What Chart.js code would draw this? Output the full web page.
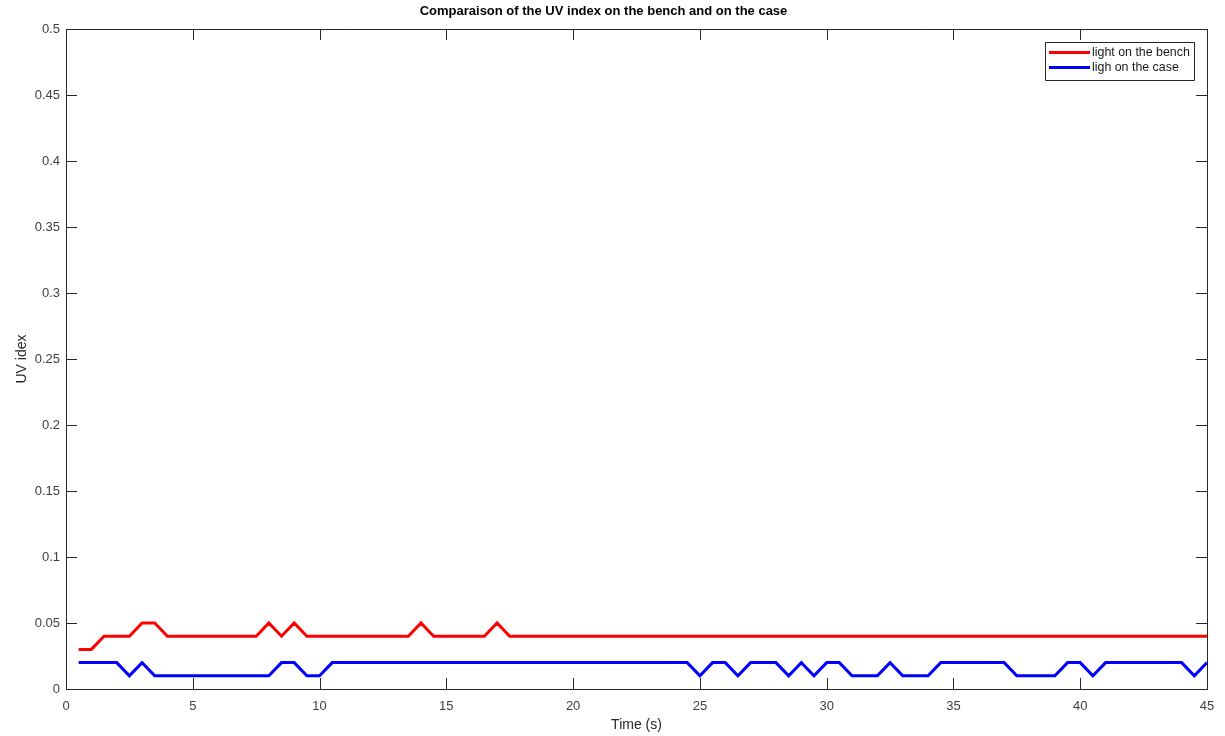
<!DOCTYPE html>
<html>
<head>
<meta charset="utf-8">
<title>UV index</title>
<script src="https://cdn.jsdelivr.net/npm/chart.js@4.4.1/dist/chart.umd.min.js"></script>
<style>
  html, body { margin: 0; padding: 0; background: #fff; }
  canvas { display: block; }
</style>
</head>
<body>
<canvas id="uvChart" width="1225" height="736"></canvas>
<script>
// time of each sample (s)
const timeValues = [
  0.5, 1, 1.5, 2, 2.5, 3, 3.5, 4, 4.5, 5,
  5.5, 6, 6.5, 7, 7.5, 8, 8.5, 9, 9.5, 10,
  10.5, 11, 11.5, 12, 12.5, 13, 13.5, 14, 14.5, 15,
  15.5, 16, 16.5, 17, 17.5, 18, 18.5, 19, 19.5, 20,
  20.5, 21, 21.5, 22, 22.5, 23, 23.5, 24, 24.5, 25,
  25.5, 26, 26.5, 27, 27.5, 28, 28.5, 29, 29.5, 30,
  30.5, 31, 31.5, 32, 32.5, 33, 33.5, 34, 34.5, 35,
  35.5, 36, 36.5, 37, 37.5, 38, 38.5, 39, 39.5, 40,
  40.5, 41, 41.5, 42, 42.5, 43, 43.5, 44, 44.5, 45
];

// UV index, light on the bench
const benchUV = [
  0.03, 0.03, 0.04, 0.04, 0.04, 0.05, 0.05, 0.04, 0.04, 0.04,
  0.04, 0.04, 0.04, 0.04, 0.04, 0.05, 0.04, 0.05, 0.04, 0.04,
  0.04, 0.04, 0.04, 0.04, 0.04, 0.04, 0.04, 0.05, 0.04, 0.04,
  0.04, 0.04, 0.04, 0.05, 0.04, 0.04, 0.04, 0.04, 0.04, 0.04,
  0.04, 0.04, 0.04, 0.04, 0.04, 0.04, 0.04, 0.04, 0.04, 0.04,
  0.04, 0.04, 0.04, 0.04, 0.04, 0.04, 0.04, 0.04, 0.04, 0.04,
  0.04, 0.04, 0.04, 0.04, 0.04, 0.04, 0.04, 0.04, 0.04, 0.04,
  0.04, 0.04, 0.04, 0.04, 0.04, 0.04, 0.04, 0.04, 0.04, 0.04,
  0.04, 0.04, 0.04, 0.04, 0.04, 0.04, 0.04, 0.04, 0.04, 0.04
];

// UV index, light on the case
const caseUV = [
  0.02, 0.02, 0.02, 0.02, 0.01, 0.02, 0.01, 0.01, 0.01, 0.01,
  0.01, 0.01, 0.01, 0.01, 0.01, 0.01, 0.02, 0.02, 0.01, 0.01,
  0.02, 0.02, 0.02, 0.02, 0.02, 0.02, 0.02, 0.02, 0.02, 0.02,
  0.02, 0.02, 0.02, 0.02, 0.02, 0.02, 0.02, 0.02, 0.02, 0.02,
  0.02, 0.02, 0.02, 0.02, 0.02, 0.02, 0.02, 0.02, 0.02, 0.01,
  0.02, 0.02, 0.01, 0.02, 0.02, 0.02, 0.01, 0.02, 0.01, 0.02,
  0.02, 0.01, 0.01, 0.01, 0.02, 0.01, 0.01, 0.01, 0.02, 0.02,
  0.02, 0.02, 0.02, 0.02, 0.01, 0.01, 0.01, 0.01, 0.02, 0.02,
  0.01, 0.02, 0.02, 0.02, 0.02, 0.02, 0.02, 0.02, 0.01, 0.02
];

const seriesLabels = ["light on the bench", "ligh on the case"];
const seriesColors = ["#ff0000", "#0000ff"];

const axisColor = "#262626";
const fontName = "'Liberation Sans', Arial, Helvetica, sans-serif";

function toPoints(values) {
  return values.map((v, i) => ({ x: timeValues[i], y: v }));
}

// matlab style box: frame with inward ticks on all four sides + legend box
const matlabBox = {
  id: "matlabBox",
  afterDraw(chart) {
    const ctx = chart.ctx;
    const area = chart.chartArea;
    const xs = chart.scales.x;
    const ys = chart.scales.y;
    const tickLen = 11;

    ctx.save();
    ctx.strokeStyle = axisColor;
    ctx.lineWidth = 1;
    ctx.beginPath();
    ctx.rect(Math.round(area.left) + 0.5, Math.round(area.top) + 0.5,
      Math.round(area.right - area.left), Math.round(area.bottom - area.top));
    ctx.stroke();

    ctx.beginPath();
    xs.ticks.forEach((t) => {
      const px = Math.round(xs.getPixelForValue(t.value)) + 0.5;
      ctx.moveTo(px, area.bottom);
      ctx.lineTo(px, area.bottom - tickLen);
      ctx.moveTo(px, area.top);
      ctx.lineTo(px, area.top + tickLen);
    });
    ys.ticks.forEach((t) => {
      const py = Math.round(ys.getPixelForValue(t.value)) + 0.5;
      ctx.moveTo(area.left, py);
      ctx.lineTo(area.left + tickLen, py);
      ctx.moveTo(area.right, py);
      ctx.lineTo(area.right - tickLen, py);
    });
    ctx.stroke();

    // legend
    const boxRight = area.right - 13;
    const boxTop = area.top + 13;
    const boxW = 149;
    const boxH = 38;
    const boxLeft = boxRight - boxW;
    ctx.fillStyle = "#fff";
    ctx.fillRect(boxLeft, boxTop, boxW, boxH);
    ctx.beginPath();
    ctx.rect(Math.round(boxLeft) + 0.5, Math.round(boxTop) + 0.5, boxW, boxH);
    ctx.stroke();

    ctx.font = "12.4px " + fontName;
    ctx.textBaseline = "middle";
    ctx.textAlign = "left";
    chart.data.datasets.forEach((ds, i) => {
      const ly = boxTop + 10.5 + i * 15;
      ctx.strokeStyle = ds.borderColor;
      ctx.lineWidth = 3;
      ctx.beginPath();
      ctx.moveTo(boxLeft + 4, ly);
      ctx.lineTo(boxLeft + 45, ly);
      ctx.stroke();
      ctx.fillStyle = "#1a1a1a";
      ctx.fillText(ds.label, boxLeft + 47, ly);
    });
    ctx.restore();
  }
};

const ctx = document.getElementById("uvChart").getContext("2d");
const uvChart = new Chart(ctx, {
  type: "line",
  data: {
    datasets: [
      {
        label: seriesLabels[0],
        data: toPoints(benchUV),
        borderColor: seriesColors[0],
        borderWidth: 3,
        pointRadius: 0,
        tension: 0,
        fill: false
      },
      {
        label: seriesLabels[1],
        data: toPoints(caseUV),
        borderColor: seriesColors[1],
        borderWidth: 3,
        pointRadius: 0,
        tension: 0,
        fill: false
      }
    ]
  },
  options: {
    responsive: false,
    animation: false,
    devicePixelRatio: 1,
    layout: { padding: { top: 0, right: 18, bottom: 0, left: 0 } },
    plugins: {
      legend: { display: false },
      tooltip: { enabled: false },
      title: {
        display: true,
        text: "Comparaison of the UV index on the bench and on the case",
        color: "#000",
        font: { family: fontName, size: 13, weight: "bold" },
        padding: { top: 4, bottom: 9.4 }
      }
    },
    scales: {
      x: {
        type: "linear",
        min: 0,
        max: 45,
        grid: { drawOnChartArea: false, drawTicks: false },
        border: { display: true, color: axisColor },
        ticks: {
          stepSize: 5,
          padding: 10,
          color: "#404040",
          font: { family: fontName, size: 13 },
          maxRotation: 0
        },
        title: {
          display: true,
          text: "Time (s)",
          color: "#262626",
          font: { family: fontName, size: 14 },
          padding: { top: 0, bottom: 2.8 }
        },
        afterFit(scale) { scale.height = 47; }
      },
      y: {
        min: 0,
        max: 0.5,
        grid: { drawOnChartArea: false, drawTicks: false },
        border: { display: true, color: axisColor },
        ticks: {
          stepSize: 0.05,
          padding: 6,
          color: "#404040",
          font: { family: fontName, size: 13 },
          callback: function (value) {
            return String(Math.round(value * 100) / 100);
          }
        },
        title: {
          display: true,
          text: "UV idex",
          color: "#262626",
          font: { family: fontName, size: 14 },
          padding: { top: 13.4, bottom: 0 }
        },
        afterFit(scale) { scale.width = 66; }
      }
    }
  },
  plugins: [matlabBox]
});
</script>
</body>
</html>
